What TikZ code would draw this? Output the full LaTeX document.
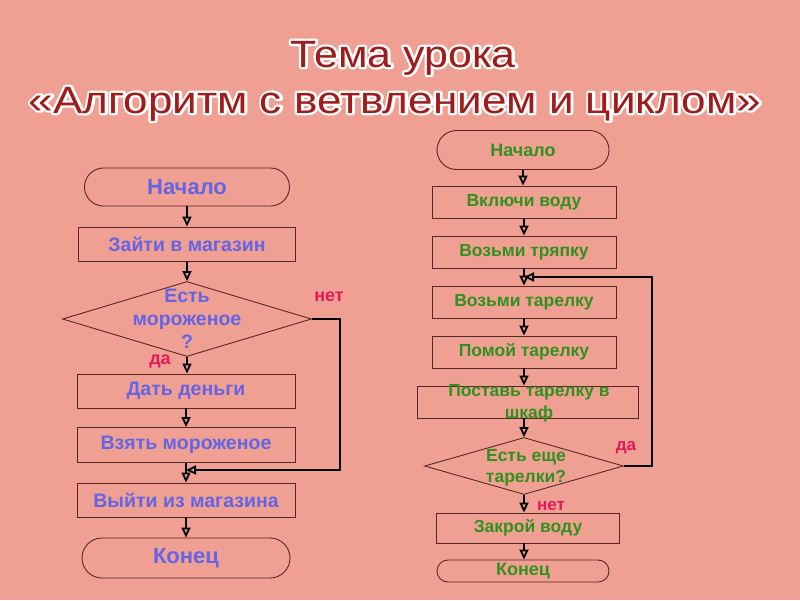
\documentclass[tikz,border=0pt]{standalone}
\usepackage{fontspec}
\setmainfont{Liberation Sans}
\usetikzlibrary{shapes.geometric,shapes.misc,arrows.meta,calc}
\definecolor{bg}{RGB}{240,160,146}
\definecolor{bord}{RGB}{85,40,40}
\definecolor{bluet}{RGB}{100,100,228}
\definecolor{greent}{RGB}{50,145,30}
\definecolor{redl}{RGB}{228,25,90}
\definecolor{titlec}{RGB}{160,28,28}
\newcommand{\strokeon}{\special{pdf:literal direct q 1 1 1 RG 1 1 1 rg 4.5 w 1 j 2 Tr}}
\newcommand{\strokeoff}{\special{pdf:literal direct Q}}
\newcommand{\titleone}{Тема урока}
\newcommand{\titletwo}{«Алгоритм с ветвлением и циклом»}
\begin{document}
\begin{tikzpicture}[x=1pt,y=-1pt,
  box/.style={draw=bord, line width=0.9pt, rectangle, inner sep=0pt},
  lbox/.style={box, text=bluet, font=\bfseries\fontsize{19.5}{23}\selectfont},
  rbox/.style={box, text=greent, font=\bfseries\fontsize{17.5}{21}\selectfont},
  term/.style={rounded rectangle},
  decision/.style={draw=bord, line width=0.9pt, diamond, inner sep=0pt},
  txt/.style={inner sep=0pt, align=center},
  lab/.style={inner sep=0pt, text=redl, font=\bfseries\fontsize{18}{21}\selectfont},
  tip/.style={-{Triangle[open,length=10pt,width=9pt,line width=1.8pt]}},
  arr/.style={draw=black, line width=1.3pt, tip},
  loopline/.style={draw=black, line width=2.4pt, tip},
  ttl/.style={inner sep=0pt, anchor=base, font=\fontsize{38}{44}\selectfont}
]
\useasboundingbox (0,0) rectangle (800,600);
\fill[bg] (0,0) rectangle (800,600);

% title
\node[ttl, text=white] (title1s) at (403,67) {\scalebox{1.13}[1]{\strokeon\titleone\strokeoff}};
\node[ttl, text=white] (title2s) at (395,113) {\scalebox{1.16}[1]{\strokeon\titletwo\strokeoff}};
\node[ttl, text=titlec] (title1) at (403,67) {\scalebox{1.13}[1]{\titleone}};
\node[ttl, text=titlec] (title2) at (395,113) {\scalebox{1.16}[1]{\titletwo}};

% left flowchart
\node[lbox, term, minimum width=205pt, minimum height=38pt, font=\bfseries\fontsize{22}{26}\selectfont] (l1) at (187,187) {Начало};
\node[lbox, minimum width=217pt, minimum height=34pt] (l2) at (187,244) {Зайти в магазин};
\node[decision, minimum width=249pt, minimum height=75pt] (l3) at (187,319) {};
\node[txt, text=bluet, font=\bfseries\fontsize{19.5}{23}\selectfont] (l3t) at (l3) {Есть\\мороженое\\?};
\node[lbox, minimum width=218pt, minimum height=34pt] (l4) at (186,391) {Дать деньги};
\node[lbox, minimum width=218pt, minimum height=35pt] (l5) at (186,445) {Взять мороженое};
\node[lbox, minimum width=218pt, minimum height=34pt] (l6) at (186,500) {Выйти из магазина};
\node[lbox, term, minimum width=208pt, minimum height=40pt, font=\bfseries\fontsize{22}{26}\selectfont] (l7) at (186,558) {Конец};
\node[lab] (lnet) at (329,297) {нет};
\node[lab] (lda) at (160,361) {да};
\coordinate (lj) at (186,470);

\draw[arr] (l1.south) -- (l1.south |- l2.north);
\draw[arr] (l2.south) -- (l2.south |- l3.north);
\draw[arr] (l3.south) -- (l3.south |- l4.north);
\draw[arr] (l4.south) -- (l4.south |- l5.north);
\draw[arr] (l5.south) -- (l5.south |- l6.north);
\draw[arr] (l6.south) -- (l6.south |- l7.north);
\draw[loopline] (l3.east) -- ++(28,0) |- (lj);

% right flowchart
\node[rbox, term, minimum width=172pt, minimum height=39pt, font=\bfseries\fontsize{18}{21}\selectfont] (r1) at (523,150) {Начало};
\node[rbox, minimum width=184pt, minimum height=32pt] (r2) at (524,202) {Включи воду};
\node[rbox, minimum width=184pt, minimum height=32pt] (r3) at (524,252) {Возьми тряпку};
\node[rbox, minimum width=184pt, minimum height=32pt] (r4) at (524,302) {Возьми тарелку};
\node[rbox, minimum width=184pt, minimum height=32pt] (r5) at (524,352) {Помой тарелку};
\node[rbox, minimum width=221pt, minimum height=32pt] (r6) at (528,402) {};
\node[txt, text=greent, font=\bfseries\fontsize{17.5}{22}\selectfont] (r6t) at (529,403) {Поставь тарелку в\\шкаф};
\node[decision, minimum width=199pt, minimum height=57pt] (r7) at (524,466) {};
\node[txt, text=greent, font=\bfseries\fontsize{17.5}{21}\selectfont] (r7t) at (526,468) {Есть еще\\тарелки?};
\node[rbox, minimum width=183pt, minimum height=30pt] (r8) at (528,528) {Закрой воду};
\node[rbox, term, minimum width=172pt, minimum height=22pt, font=\bfseries\fontsize{18}{21}\selectfont] (r9) at (523,571) {Конец};
\node[lab, font=\bfseries\fontsize{17}{20}\selectfont] (rda) at (626,448) {да};
\node[lab, font=\bfseries\fontsize{17}{20}\selectfont] (rnet) at (551,506) {нет};
\coordinate (rj) at (524,277);

\draw[arr] (r1.south) -- (r1.south |- r2.north);
\draw[arr] (r2.south) -- (r2.south |- r3.north);
\draw[arr] (r3.south) -- (r3.south |- r4.north);
\draw[arr] (r4.south) -- (r4.south |- r5.north);
\draw[arr] (r5.south) -- (r5.south |- r6.north);
\draw[arr] (r5.south |- r6.south) -- (r7.north);
\draw[arr] (r7.south) -- (r7.south |- r8.north);
\draw[arr] (r7.south |- r8.south) -- (r7.south |- r9.north);
\draw[loopline] (r7.east) -- ++(28,0) |- (rj);
\end{tikzpicture}
\end{document}
